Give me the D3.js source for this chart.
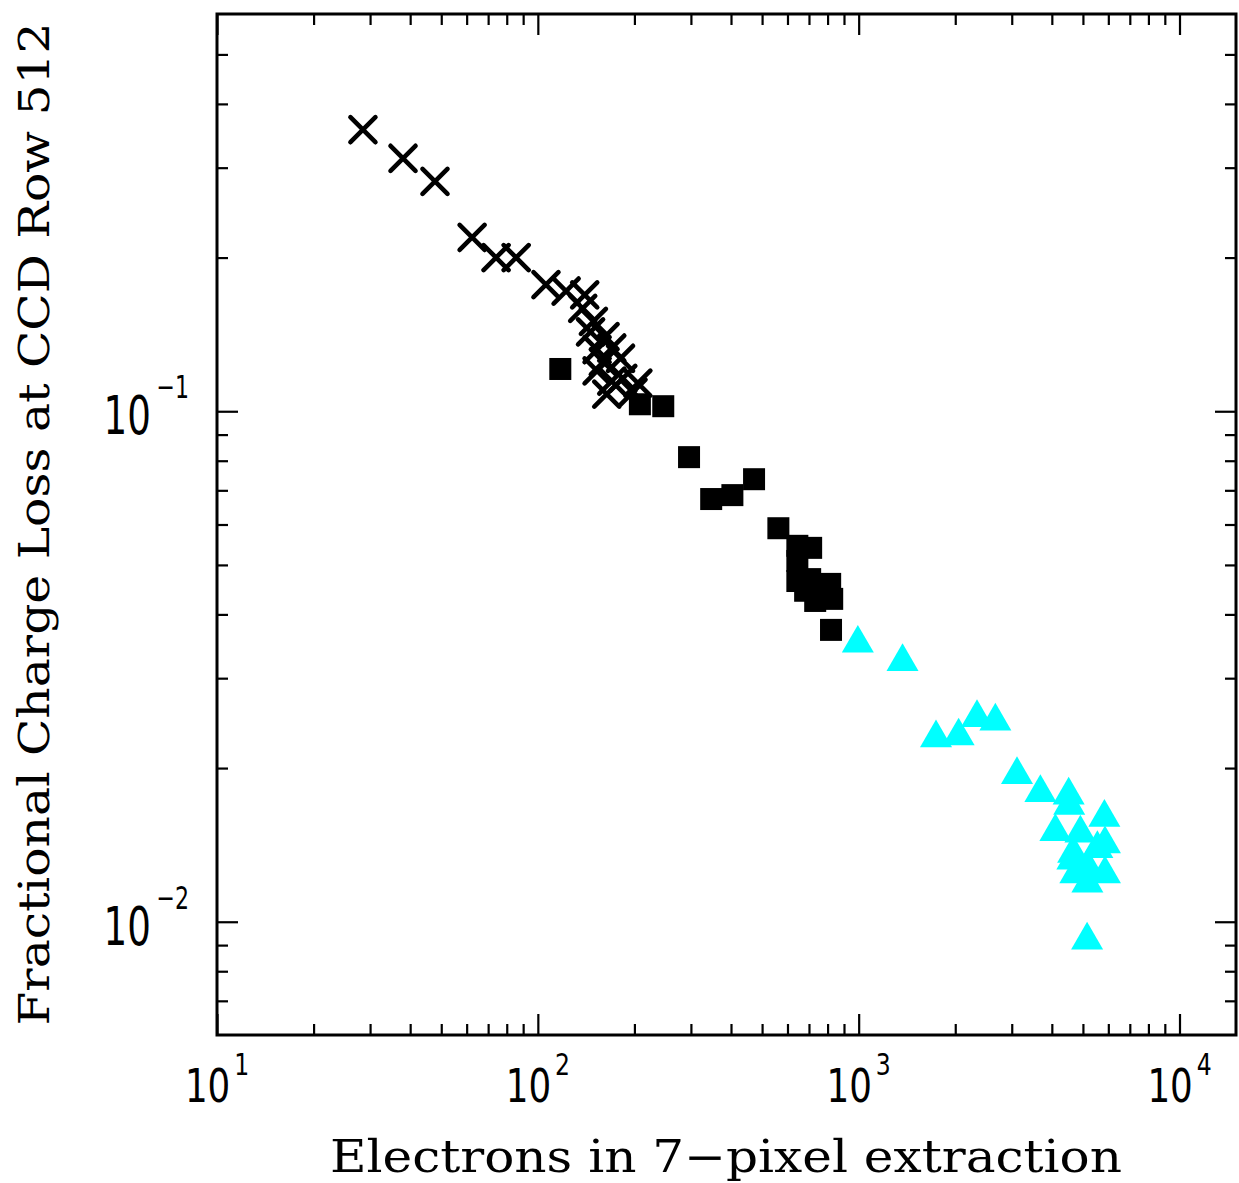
<!DOCTYPE html>
<html>
<head>
<meta charset="utf-8">
<script src="https://cdn.jsdelivr.net/npm/d3@7"></script>
<style>
  html, body { margin: 0; padding: 0; background: #fff; }
  svg { display: block; }
</style>
</head>
<body>
<script>
// ---- data ----
const crossX = [28.5, 38.0, 47.8, 62.4, 74.1, 85.6, 106, 122.5, 140, 138, 149, 146, 162, 153, 170, 160, 181, 153, 170, 184, 164, 198, 205];
const crossY = [0.356, 0.313, 0.282, 0.219, 0.200, 0.200, 0.177, 0.172, 0.169, 0.159, 0.150, 0.143, 0.140, 0.132, 0.133, 0.125, 0.127, 0.120, 0.1145, 0.116, 0.108, 0.109, 0.1135];

const squareX = [117.5, 208, 246, 296, 347, 404, 472, 562, 644, 711, 644, 644, 706, 815, 827, 732, 681, 820];
const squareY = [0.121, 0.1032, 0.1023, 0.0813, 0.0673, 0.0685, 0.0736, 0.0590, 0.0545, 0.0540, 0.0509, 0.0465, 0.0469, 0.0459, 0.0429, 0.0425, 0.0445, 0.0373];

const triX = [994, 1370, 1742, 2049, 2338, 2667, 3115, 3684, 4514, 4532, 5833, 4103, 4909, 5857, 5546, 4662, 4634, 5163, 4735, 5857, 5163, 5152];
const triY = [0.0351, 0.0323, 0.0229, 0.0231, 0.0251, 0.0247, 0.0194, 0.0179, 0.0177, 0.0169, 0.0160, 0.0150, 0.0149, 0.0142, 0.0139, 0.0136, 0.0132, 0.0128, 0.0124, 0.0124, 0.0119, 0.0092];

const xMajor = [10, 100, 1000, 10000];
const xExp = ["1", "2", "3", "4"];
const yMajor = [0.1, 0.01];
const yExp = ["\u22121", "\u22122"];
const xDomain = [10, 15000];
const yDomain = [0.006, 0.6];
const xTitle = "Electrons in 7\u2212pixel extraction";
const yTitle = "Fractional Charge Loss at CCD Row 512";

// ---- layout ----
const W = 1239, H = 1183;
const L = 217, R = 1236, T = 14, B = 1035;

const svg = d3.select("body").append("svg").attr("width", W).attr("height", H);
svg.append("rect").attr("width", W).attr("height", H).attr("fill", "#fff");

const x = d3.scaleLog().domain(xDomain).range([L, R]);
const y = d3.scaleLog().domain(yDomain).range([B, T]);

// minor tick values (2..9 within each decade)
function minors(domain) {
  const out = [];
  const lo = Math.floor(Math.log10(domain[0])), hi = Math.ceil(Math.log10(domain[1]));
  for (let e = lo; e < hi; e++) {
    for (let k = 2; k <= 9; k++) {
      const v = k * Math.pow(10, e);
      if (v > domain[0] * 1.0001 && v < domain[1] * 0.9999) out.push(v);
    }
  }
  return out;
}
const xMinor = minors(xDomain);
const yMinor = minors(yDomain);

const majLen = 21, minLen = 11;
function styleAxis(g) {
  g.select(".domain").remove();
  g.selectAll("text").remove();
  g.selectAll("line").attr("stroke", "#000").attr("stroke-width", 2.2);
}
function addAxis(axisFn, scale, vals, len, transform) {
  svg.append("g").attr("transform", transform)
    .call(axisFn(scale).tickValues(vals).tickSize(-len).tickFormat("")).call(styleAxis);
}
addAxis(d3.axisBottom, x, xMajor, majLen, `translate(0,${B})`);
addAxis(d3.axisBottom, x, xMinor, minLen, `translate(0,${B})`);
addAxis(d3.axisTop, x, xMajor, majLen, `translate(0,${T})`);
addAxis(d3.axisTop, x, xMinor, minLen, `translate(0,${T})`);
addAxis(d3.axisLeft, y, yMajor, majLen, `translate(${L},0)`);
addAxis(d3.axisLeft, y, yMinor, minLen, `translate(${L},0)`);
addAxis(d3.axisRight, y, yMajor, majLen, `translate(${R},0)`);
addAxis(d3.axisRight, y, yMinor, minLen, `translate(${R},0)`);

// frame
svg.append("rect").attr("x", L).attr("y", T).attr("width", R - L).attr("height", B - T)
  .attr("fill", "none").attr("stroke", "#000").attr("stroke-width", 3);

// tick labels (single text elements with superscript tspans)
const tickFont = "'DejaVu Sans', 'Liberation Sans', sans-serif";
xMajor.forEach((v, i) => {
  const t = svg.append("text")
    .attr("transform", `translate(${x(v)},1102) scale(0.76,1)`)
    .attr("text-anchor", "middle")
    .attr("font-family", tickFont).attr("font-size", 47);
  t.append("tspan").text("10");
  t.append("tspan").attr("dx", 5).attr("dy", -27).attr("font-size", 31).text(xExp[i]);
});
yMajor.forEach((v, i) => {
  const t = svg.append("text")
    .attr("transform", `translate(189,${y(v) + 23}) scale(0.69,1)`)
    .attr("text-anchor", "end")
    .attr("font-family", tickFont).attr("font-size", 54);
  t.append("tspan").text("10");
  t.append("tspan").attr("dx", 8).attr("dy", -36).attr("font-size", 32).text(yExp[i]);
});

// axis titles
const titleFont = "'DejaVu Serif Condensed', 'Liberation Serif', serif";
svg.append("text").attr("x", 726).attr("y", 1172).attr("text-anchor", "middle")
  .attr("font-family", titleFont).attr("font-size", 44)
  .attr("textLength", 792).attr("lengthAdjust", "spacingAndGlyphs")
  .text(xTitle);
svg.append("text").attr("transform", "translate(49,524) rotate(-90)").attr("text-anchor", "middle")
  .attr("font-family", titleFont).attr("font-size", 42)
  .attr("textLength", 1003).attr("lengthAdjust", "spacingAndGlyphs")
  .text(yTitle);

// markers
const crosses = crossX.map((v, i) => ({ x: v, y: crossY[i] }));
const squares = squareX.map((v, i) => ({ x: v, y: squareY[i] }));
const tris = triX.map((v, i) => ({ x: v, y: triY[i] }));

const cs = 12.5;
svg.append("g").selectAll("path").data(crosses).join("path")
  .attr("transform", d => `translate(${x(d.x)},${y(d.y)})`)
  .attr("d", `M${-cs},${-cs}L${cs},${cs}M${-cs},${cs}L${cs},${-cs}`)
  .attr("stroke", "#000").attr("stroke-width", 4.6).attr("stroke-linecap", "round").attr("fill", "none");

const sq = 22;
svg.append("g").selectAll("rect").data(squares).join("rect")
  .attr("x", d => x(d.x) - sq / 2).attr("y", d => y(d.y) - sq / 2)
  .attr("width", sq).attr("height", sq).attr("fill", "#000");

svg.append("g").selectAll("path").data(tris).join("path")
  .attr("transform", d => `translate(${x(d.x)},${y(d.y)})`)
  .attr("d", d3.symbol(d3.symbolTriangle, 444))
  .attr("fill", "#00ffff");
</script>
</body>
</html>
